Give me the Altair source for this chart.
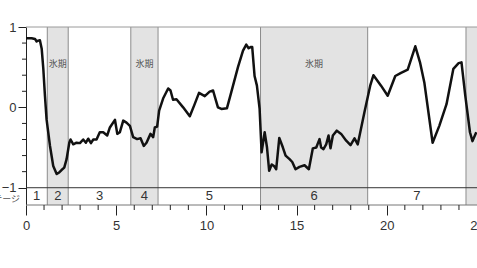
import altair as alt
import pandas as pd

# --- data ---
age = [0, 0.31, 0.5, 0.59, 0.68, 0.77, 0.87, 0.96, 1.05, 1.14,
       1.33, 1.51, 1.70, 1.84, 1.97, 2.12, 2.25, 2.40, 2.47, 2.62,
       2.80, 2.99, 3.17, 3.32, 3.45, 3.60, 3.73, 3.91, 4.09, 4.28,
       4.50, 4.65, 4.93, 5.06, 5.20, 5.39, 5.57, 5.76, 5.94, 6.16,
       6.35, 6.53, 6.68, 6.90, 7.05, 7.14, 7.27, 7.38, 7.60, 7.88,
       8.01, 8.15, 8.34, 8.71, 9.08, 9.35, 9.59, 9.91, 10.18, 10.37,
       10.51, 10.64, 10.83, 11.14, 11.38, 11.75, 12.03, 12.21, 12.34, 12.45,
       12.54, 12.67, 12.80, 12.95, 13.06, 13.23, 13.36, 13.48, 13.62, 13.75,
       13.87, 14.04, 14.24, 14.39, 14.61, 14.76, 14.94, 15.16, 15.44, 15.68,
       15.90, 16.09, 16.27, 16.36, 16.49, 16.64, 16.77, 16.88, 17.01, 17.23,
       17.47, 17.75, 17.99, 18.21, 18.39, 18.76, 19.08, 19.26, 19.68, 20.05,
       20.47, 20.79, 21.16, 21.58, 21.84, 22.08, 22.54, 22.91, 23.31, 23.69,
       23.98, 24.14, 24.35, 24.61, 24.75, 24.96]
value = [0.86, 0.86, 0.85, 0.82, 0.83, 0.835, 0.73, 0.48, 0.145, -0.15,
         -0.48, -0.73, -0.83, -0.81, -0.78, -0.75, -0.645, -0.44, -0.40, -0.46,
         -0.44, -0.445, -0.40, -0.44, -0.39, -0.445, -0.40, -0.40, -0.31, -0.31,
         -0.35, -0.25, -0.155, -0.33, -0.31, -0.165, -0.19, -0.23, -0.37, -0.395,
         -0.385, -0.48, -0.44, -0.33, -0.37, -0.25, -0.24, -0.04, 0.11, 0.235,
         0.21, 0.095, 0.10, 0.0, -0.11, 0.04, 0.18, 0.14, 0.195, 0.21,
         0.10, 0.0, -0.02, -0.01, 0.19, 0.50, 0.705, 0.78, 0.735, 0.75,
         0.75, 0.39, 0.27, -0.02, -0.56, -0.31, -0.50, -0.79, -0.71, -0.73,
         -0.77, -0.38, -0.50, -0.60, -0.645, -0.68, -0.77, -0.74, -0.72, -0.77,
         -0.51, -0.50, -0.395, -0.50, -0.52, -0.46, -0.35, -0.51, -0.35, -0.29,
         -0.33, -0.415, -0.47, -0.385, -0.46, -0.06, 0.27, 0.40, 0.27, 0.145,
         0.39, 0.43, 0.47, 0.76, 0.56, 0.31, -0.44, -0.23, 0.04, 0.48,
         0.55, 0.56, 0.145, -0.31, -0.42, -0.31]

stage_names = ["1", "2", "3", "4", "5", "6", "7", "8"]
stage_start = [0, 1.18, 2.34, 5.81, 7.32, 13.0, 18.94, 24.39]
stage_end = [1.18, 2.34, 5.81, 7.32, 13.0, 18.94, 24.39, 26.0]
labelled_stages = ["1", "2", "3", "4", "5", "6", "7"]
glacial_stages = ["2", "4", "6", "8"]
glacial_labelled = ["2", "4", "6"]
glacial_label = "氷期"
stage_row_label = "ステージ"

x_major = [0, 5, 10, 15, 20, 25]
x_minor = [float(v) for v in range(0, 26) if v % 5 != 0]
y_major = [-1, 0, 1]
y_minor = [-0.8, -0.6, -0.4, -0.2, 0.2, 0.4, 0.6, 0.8]

assert len(age) == len(value)

FONT = "Liberation Sans"
X_DOM = [0, 25]
Y_DOM = [-1.215, 1]
BAND_TOP = -1
BAND_BOT = -1.215
W, H = 451, 178

curve = pd.DataFrame({"x": age, "y": value})
stages = pd.DataFrame({"stage": stage_names, "x0": stage_start, "x1": stage_end})
stages["mid"] = (stages["x0"] + stages["x1"]) / 2
stages["y0"] = 1.0
stages["y1"] = BAND_BOT
stages["ym"] = (BAND_TOP + BAND_BOT) / 2
stages["yg"] = 0.54
stages["label"] = glacial_label
glac = stages[stages["stage"].isin(glacial_stages)]
glac_lab = stages[stages["stage"].isin(glacial_labelled)]
stage_lab = stages[stages["stage"].isin(labelled_stages)]
bounds = pd.DataFrame({"b": stage_start[1:], "y0": 1.0, "y1": BAND_BOT})
hlines = pd.DataFrame({"h": [1, BAND_TOP, BAND_BOT], "c": ["top", "band", "bot"]})
xminor_df = pd.DataFrame({"v": x_minor})
yminor_df = pd.DataFrame({"v": y_minor})
row_df = pd.DataFrame({"t": [stage_row_label], "xx": [-0.33], "yy": [-1.145]})

xs = alt.Scale(domain=X_DOM, nice=False, zero=False)
ys = alt.Scale(domain=Y_DOM, nice=False, zero=False)

AX = alt.Axis(
    values=x_major, domain=False, grid=False, format="d",
    tickSize=10, tickColor="#222222", tickWidth=1,
    labelFont=FONT, labelFontSize=13, labelColor="#333333",
    labelPadding=4, labelFlush=False, labelOverlap=False,
)
AY = alt.Axis(
    values=y_major, grid=False, domainColor="#222222", domainWidth=1, format="d",
    tickSize=8, tickColor="#222222", tickWidth=1,
    labelFont=FONT, labelFontSize=13, labelColor="#333333",
    labelPadding=2, labelFlush=False, labelOverlap=False,
)


def X(f):
    return alt.X(f, type="quantitative", scale=xs, axis=AX, title=None)


def Y(f):
    return alt.Y(f, type="quantitative", scale=ys, axis=AY, title=None)


shade = alt.Chart(glac).mark_rect(color="#e3e3e3", clip=True).encode(
    x=X("x0"), x2="x1", y=Y("y0"), y2="y1",
)

brules = alt.Chart(bounds).mark_rule(color="#8c8c8c", strokeWidth=1, clip=True).encode(
    x=X("b"), y=Y("y0"), y2="y1",
)

hrule = alt.Chart(hlines).mark_rule(strokeWidth=1).encode(
    y=Y("h"),
    color=alt.Color("c:N", scale=alt.Scale(domain=["top", "band", "bot"],
                                           range=["#9a9a9a", "#333333", "#777777"]), legend=None),
)

xminor = alt.Chart(xminor_df).mark_rule(color="#222222", strokeWidth=1).encode(
    x=X("v"), y=alt.value(H), y2=alt.value(H + 5),
)
yminor = alt.Chart(yminor_df).mark_rule(color="#222222", strokeWidth=1).encode(
    y=Y("v"), x=alt.value(-4), x2=alt.value(0),
)

stage_text = alt.Chart(stage_lab).mark_text(
    font=FONT, fontSize=13, color="#333333", baseline="middle", align="center"
).encode(x=X("mid"), y=Y("ym"), text="stage:N")

glac_text = alt.Chart(glac_lab).mark_text(
    font="Noto Sans CJK JP", fontSize=9, color="#555555", baseline="middle", align="center"
).encode(x=X("mid"), y=Y("yg"), text="label:N")

row_label = alt.Chart(row_df).mark_text(
    font="Noto Sans CJK JP", fontSize=9, color="#555555", baseline="middle", align="right"
).encode(x=X("xx"), y=Y("yy"), text="t:N")

line = alt.Chart(curve).mark_line(
    color="#111111", strokeWidth=2.5, clip=True, strokeJoin="round"
).encode(x=X("x"), y=Y("y"))

chart = alt.layer(
    shade, brules, hrule, xminor, yminor, stage_text, glac_text, row_label, line
).properties(
    width=W, height=H,
    autosize=alt.AutoSizeParams(type="none"),
    padding={"left": 26, "top": 27, "right": 0, "bottom": 63},
).configure_view(stroke=None)

chart.save("out.html", embed_options={"renderer": "svg", "actions": False})
